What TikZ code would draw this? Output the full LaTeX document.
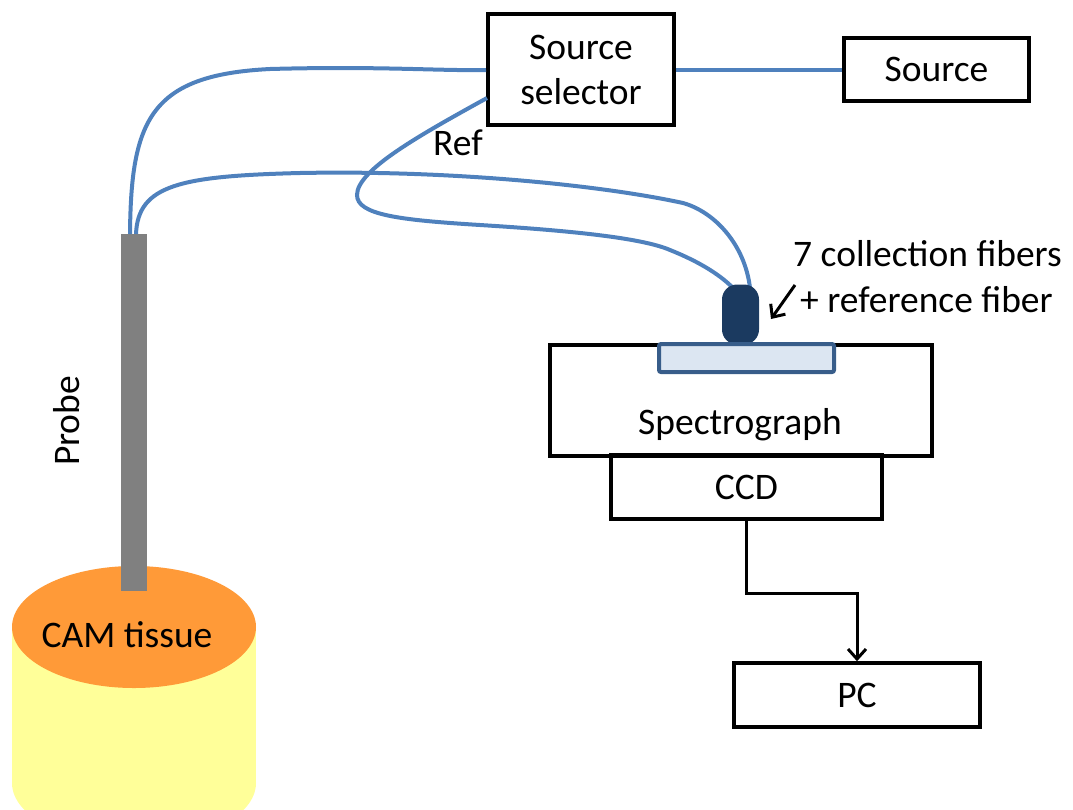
\documentclass[tikz,border=0pt]{standalone}
\usepackage{fontspec}
\setmainfont{Carlito}
\usetikzlibrary{arrows.meta,calc,shapes.geometric}
\newcommand\labelfont{\fontsize{37.5}{45}\selectfont}
\definecolor{fiber}{HTML}{4F81BD}
\definecolor{navy}{HTML}{1B3A60}
\definecolor{slitfill}{HTML}{DCE6F2}
\definecolor{slitdraw}{HTML}{385D8A}
\definecolor{probegray}{HTML}{808080}
\definecolor{tissue}{HTML}{FF9A38}
\definecolor{dish}{HTML}{FFFF99}
\begin{document}
\begin{tikzpicture}[x=1pt,y=-1pt,
  box/.style={draw=black, line width=3.5pt, inner sep=0pt, font=\labelfont, align=center},
  txt/.style={inner sep=0pt, font=\labelfont},
  fiberline/.style={draw=fiber, line width=4pt},
  barb/.style={line width=3pt, -{Straight Barb[length=10pt,width=18pt,line width=3pt]}}]
\useasboundingbox (0,0) rectangle (1073,809);

% sample: dish with CAM tissue on top
\fill[dish] (12,627) rectangle (256,783);
\fill[dish] (134,783) ellipse[x radius=122, y radius=61];
\node[ellipse, fill=tissue, minimum width=244pt, minimum height=122pt, inner sep=0pt] (cam) at (134,627) {};
\node[txt, anchor=base] (camtext) at (127,647) {CAM tissue};

% probe
\node[fill=probegray, minimum width=26pt, minimum height=357pt, inner sep=0pt] (probe) at (134,412) {};
\node[txt, rotate=90] (probetext) at (67,421) {Probe};

% boxes
\node[box, minimum width=186pt, minimum height=111pt] (sel) at (581,69.5) {Source\\selector};
\node[box, minimum width=185pt, minimum height=63pt] (src) at (936.5,69.5) {Source};
\node[box, minimum width=382pt, minimum height=111pt] (spec) at (741,400.5) {};
\node[txt, anchor=base] (spectext) at (740,434) {Spectrograph};
\node[box, minimum width=271pt, minimum height=64pt] (ccd) at (746.5,487) {CCD};
\node[box, minimum width=246pt, minimum height=64pt] (pc) at (857,695) {PC};

% fiber end points
\coordinate (p1) at (130,234);
\coordinate (p2) at (136,234);
\coordinate (s1) at (486,70);
\coordinate (s2) at (487,98);
\coordinate (c1) at (750,288);
\coordinate (c2) at (732,287);

% fibers
\draw[fiberline] (sel.east) -- (src.west);
\draw[fiberline] (p1) .. controls (131,120) and (150,75) .. (270,69)
  .. controls (380,66) and (440,71) .. (s1);
\draw[fiberline] (p2) .. controls (138,185) and (180,176) .. (300,173)
  .. controls (450,170) and (600,185) .. (683,203)
  .. controls (715,212) and (745,245) .. (c1);
\draw[fiberline] (s2) .. controls (420,135) and (357,170) .. (357,195)
  .. controls (357,215) and (400,220) .. (480,225)
  .. controls (560,230) and (640,237) .. (670,250)
  .. controls (700,262) and (720,275) .. (c2);
\node[txt, anchor=base west] (ref) at (433,155) {Ref};

% fiber bundle connector and entrance slit
\node[fill=navy, rounded corners=15pt, minimum width=37pt, minimum height=60pt, inner sep=0pt] (conn) at (740.5,314.5) {};
\node[draw=slitdraw, fill=slitfill, line width=4pt, rounded corners=2pt, minimum width=175pt, minimum height=28pt, inner sep=0pt] (slit) at (746.5,358) {};

% fiber label
\node[txt, anchor=base west] (lab1) at (793,266) {7 collection fibers};
\node[txt, anchor=base west] (lab2) at (800,312) {+ reference fiber};
\coordinate (a1) at (795,285);
\coordinate (a2) at (771,319);
\draw[barb] (a1) -- (a2);

% data link
\draw[barb] (ccd.south) -- ++(0,73) -| (pc.north);
\end{tikzpicture}
\end{document}
